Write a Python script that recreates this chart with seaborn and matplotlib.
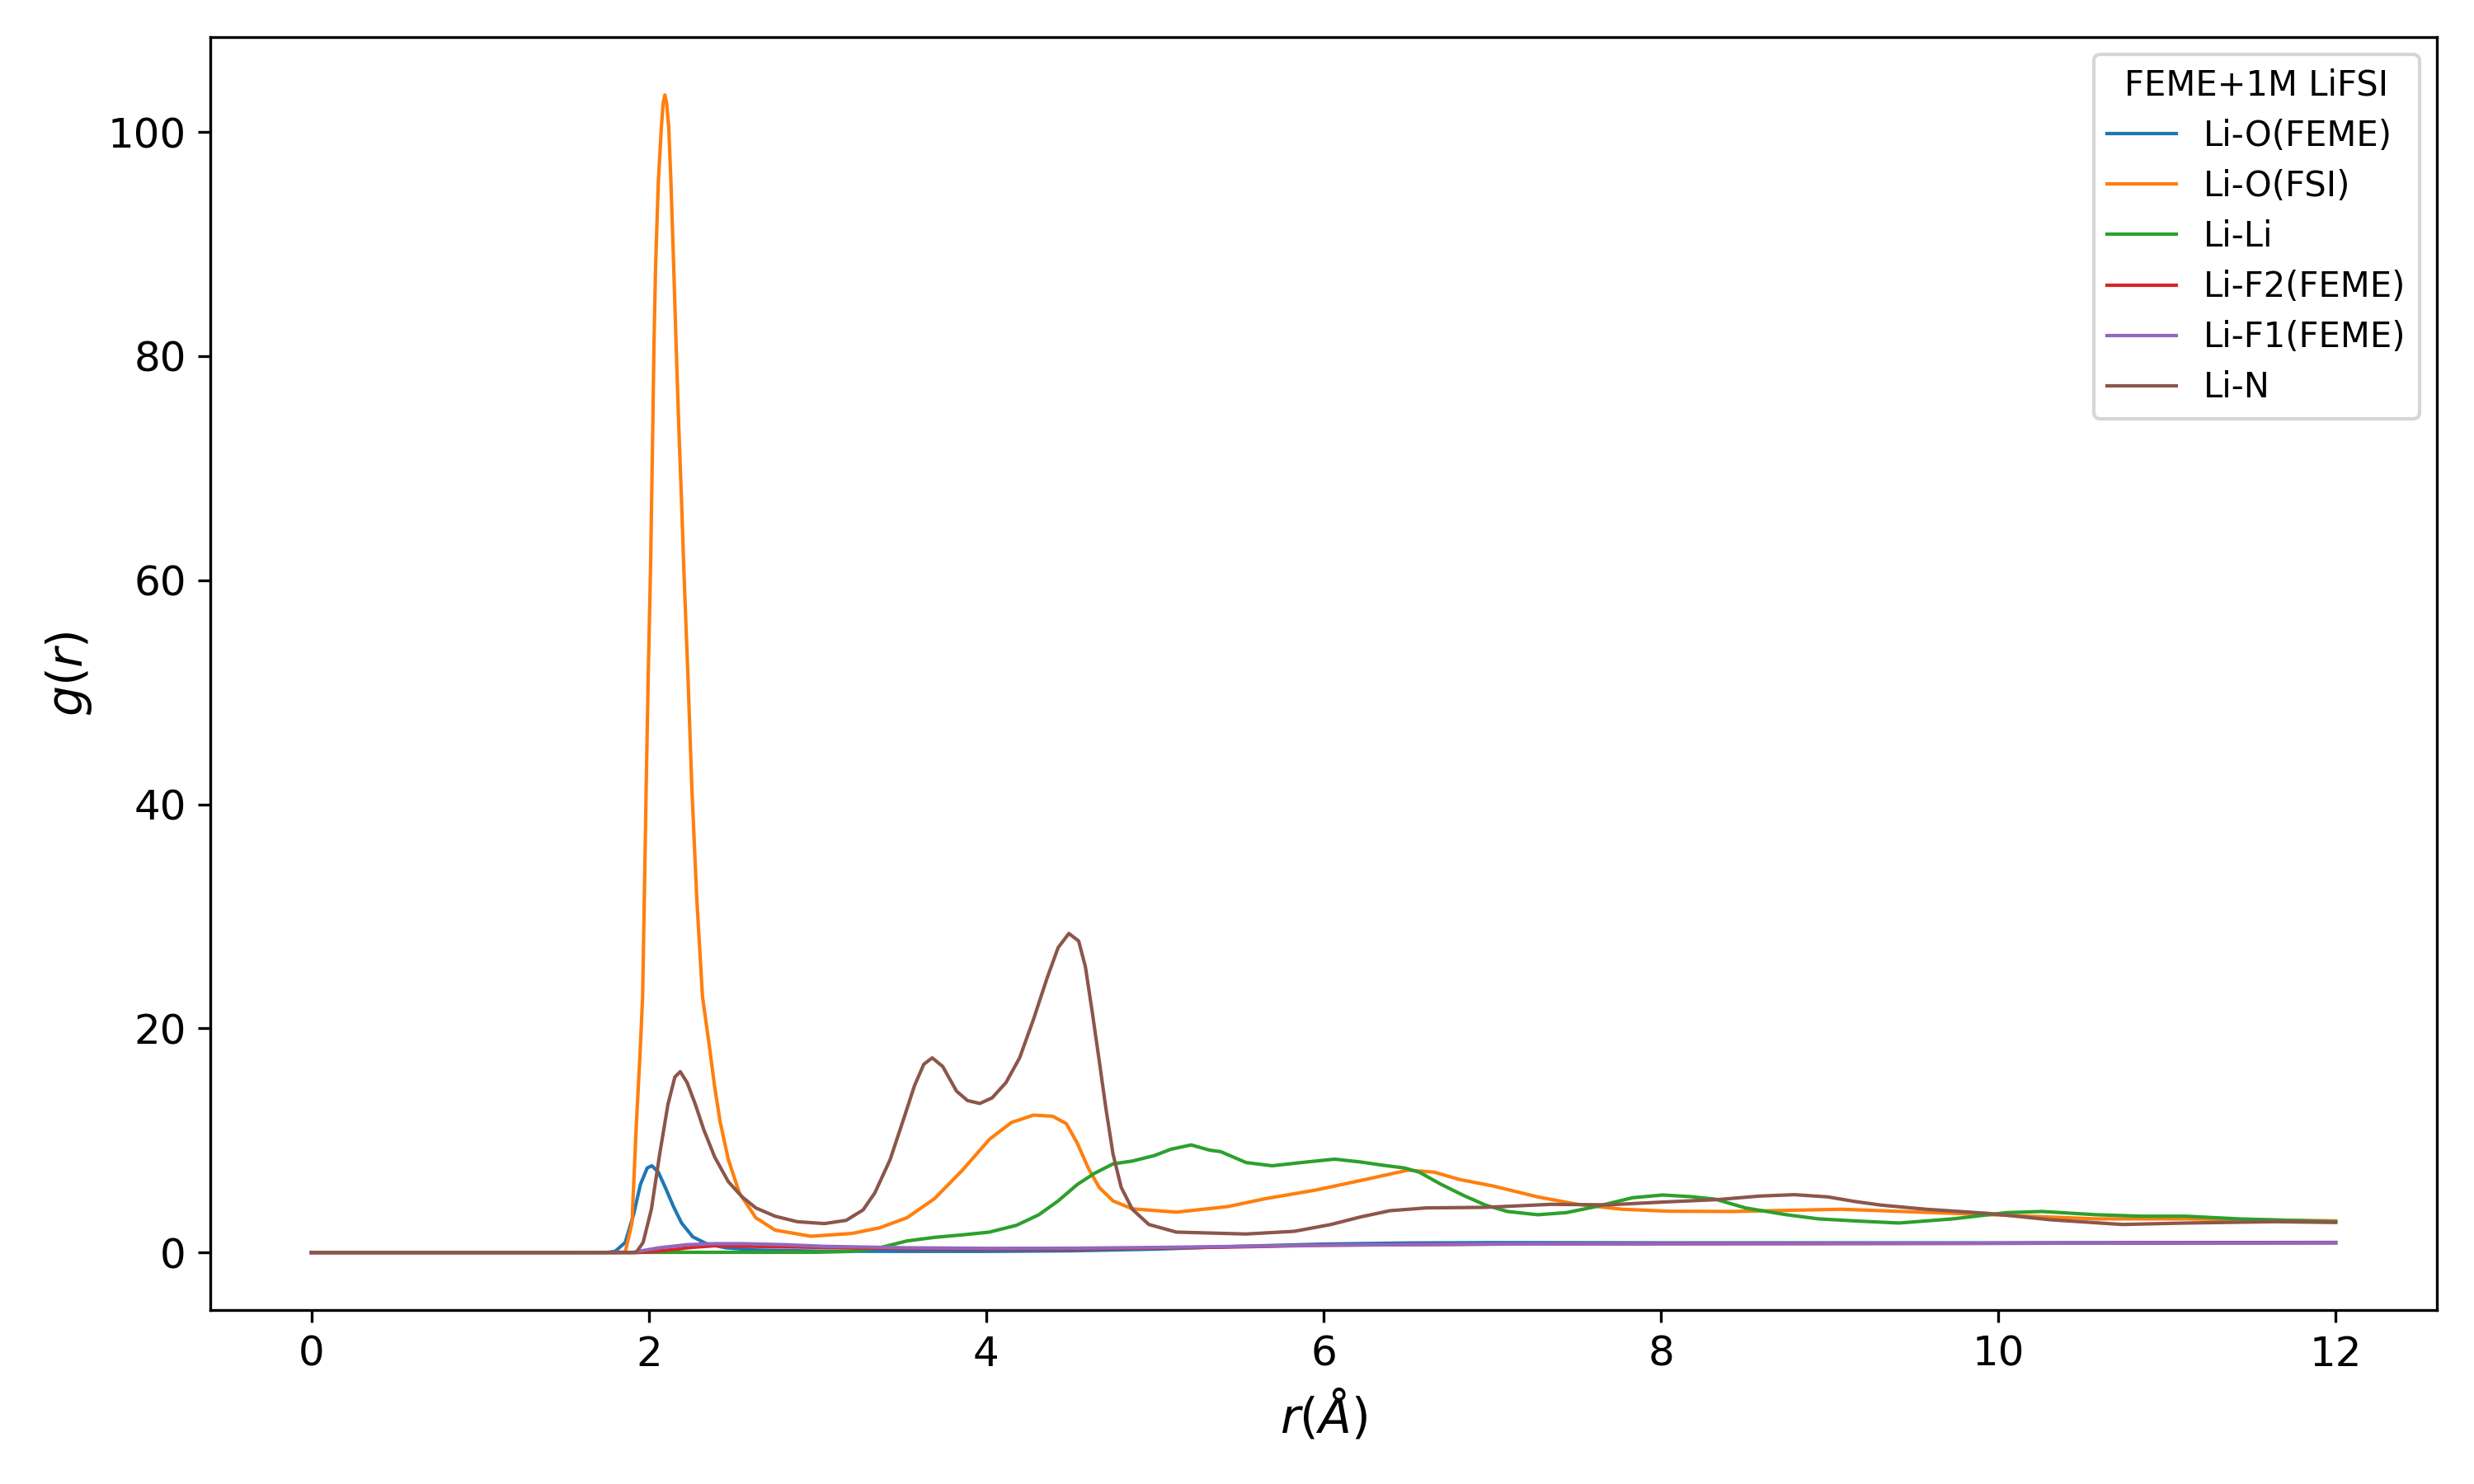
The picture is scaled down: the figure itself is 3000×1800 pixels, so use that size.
import matplotlib
matplotlib.use("Agg")
import matplotlib.pyplot as plt
import seaborn as sns

# ---- data ----
labels = ["Li-O(FEME)", "Li-O(FSI)", "Li-Li", "Li-F2(FEME)", "Li-F1(FEME)", "Li-N"]
legend_title = "FEME+1M LiFSI"

r_lio_feme = [0, 1.75, 1.80, 1.86, 1.909, 1.95, 1.99, 2.018, 2.056, 2.097, 2.146, 2.194, 2.26,
              2.341, 2.455, 2.634, 3.0, 3.5, 4.0, 4.5, 5.0, 5.5, 6.0, 6.5, 7.0, 8.0, 9.0, 10.0,
              11.0, 12.0]
g_lio_feme = [0, 0, 0.1, 0.9, 3.37, 6.07, 7.54, 7.74, 7.17, 5.82, 4.1, 2.63, 1.4,
              0.79, 0.42, 0.22, 0.12, 0.1, 0.1, 0.15, 0.3, 0.55, 0.75, 0.85, 0.88, 0.86, 0.86, 0.86,
              0.88, 0.9]

r_lio_fsi = [0, 1.80, 1.86, 1.90, 1.925, 1.947, 1.963, 1.973, 1.984, 1.996, 2.010, 2.023, 2.030,
             2.040, 2.056, 2.074, 2.085, 2.095, 2.105, 2.118, 2.131, 2.147, 2.162, 2.178, 2.194,
             2.207, 2.232, 2.255, 2.284, 2.318, 2.357, 2.389, 2.422, 2.471, 2.537, 2.634, 2.748,
             2.96, 3.204, 3.367, 3.53, 3.693, 3.856, 4.019, 4.149, 4.28, 4.394, 4.475, 4.54,
             4.606, 4.67, 4.752, 4.866, 5.127, 5.433, 5.65, 5.956, 6.262, 6.50, 6.655, 6.807,
             7.0, 7.27, 7.505, 7.77, 8.05, 8.42, 8.66, 9.07, 9.52, 10.05, 10.58, 11.11, 12.0]
g_lio_fsi = [0, 0, 0.05, 2.63, 11.2, 17.5, 22.8, 31.6, 41.4, 51.3, 61.1, 73.4, 80.8,
             88.1, 95.5, 100.4, 102.6, 103.3, 102.6, 100.4, 95.5, 88.1, 80.8, 73.4, 67.0,
             61.1, 51.3, 41.4, 31.6, 22.8, 18.6, 14.9, 11.7, 8.3, 5.3, 3.1, 2.0,
             1.45, 1.7, 2.2, 3.1, 4.8, 7.3, 10.1, 11.6, 12.26, 12.16, 11.5, 9.75,
             7.5, 5.8, 4.6, 3.9, 3.6, 4.1, 4.79, 5.58, 6.56, 7.35, 7.17, 6.51,
             5.95, 4.96, 4.3, 3.86, 3.68, 3.66, 3.73, 3.86, 3.61, 3.32, 3.0, 3.0, 2.82]

r_lili = [0, 3.0, 3.2, 3.367, 3.53, 3.693, 3.856, 4.019, 4.18, 4.312, 4.426, 4.54, 4.64, 4.752,
          4.866, 4.997, 5.094, 5.215, 5.322, 5.39, 5.54, 5.695, 5.87, 6.065, 6.218, 6.35, 6.48,
          6.567, 6.698, 6.83, 6.96, 7.09, 7.27, 7.44, 7.615, 7.833, 8.01, 8.18, 8.325, 8.5,
          8.744, 8.935, 9.15, 9.41, 9.73, 10.05, 10.26, 10.58, 10.845, 11.11, 11.425, 12.0]
g_lili = [0, 0.02, 0.1, 0.42, 1.03, 1.35, 1.57, 1.82, 2.43, 3.37, 4.6, 6.07, 7.05, 7.91,
          8.16, 8.65, 9.21, 9.6, 9.14, 9.0, 8.03, 7.74, 8.03, 8.33, 8.08, 7.79, 7.54,
          7.17, 6.07, 5.09, 4.23, 3.66, 3.37, 3.56, 4.1, 4.89, 5.13, 4.98, 4.75, 3.98,
          3.37, 3.0, 2.82, 2.63, 3.0, 3.56, 3.66, 3.37, 3.24, 3.24, 3.0, 2.75]

r_lif2 = [0, 1.93, 2.05, 2.146, 2.25, 2.39, 2.6, 3.04, 3.5, 4.0, 4.5, 5.0, 5.5, 6.0, 7.0, 8.0,
          9.0, 10.0, 11.0, 12.0]
g_lif2 = [0, 0, 0.12, 0.26, 0.45, 0.6, 0.55, 0.45, 0.35, 0.3, 0.3, 0.4, 0.5, 0.65, 0.75, 0.78,
          0.8, 0.82, 0.85, 0.86]

r_lif1 = [0, 1.9, 2.06, 2.23, 2.39, 2.55, 2.8, 3.04, 3.53, 4.02, 4.5, 5.0, 5.5, 6.0, 7.0, 8.0,
          9.0, 10.0, 11.0, 12.0]
g_lif1 = [0, 0, 0.42, 0.7, 0.79, 0.79, 0.7, 0.55, 0.42, 0.37, 0.38, 0.45, 0.55, 0.65, 0.75, 0.78,
          0.8, 0.82, 0.85, 0.86]

r_lin = [0, 1.925, 1.966, 2.015, 2.064, 2.113, 2.154, 2.186, 2.227, 2.276, 2.325, 2.39, 2.471,
         2.553, 2.634, 2.748, 2.879, 3.04, 3.17, 3.27, 3.34, 3.43, 3.51, 3.575, 3.63, 3.68,
         3.742, 3.824, 3.889, 3.962, 4.035, 4.117, 4.198, 4.28, 4.361, 4.426, 4.49, 4.548,
         4.588, 4.63, 4.67, 4.711, 4.752, 4.8, 4.866, 4.964, 5.127, 5.54, 5.826, 6.044, 6.218,
         6.393, 6.61, 6.96, 7.35, 7.685, 8.01, 8.336, 8.58, 8.79, 8.99, 9.15, 9.305, 9.57, 9.94,
         10.31, 10.735, 11.11, 11.64, 12.0]
g_lin = [0, 0, 0.9, 3.86, 8.77, 13.2, 15.65, 16.14, 15.16, 13.2, 10.98, 8.53, 6.32,
         4.96, 3.98, 3.24, 2.75, 2.58, 2.87, 3.8, 5.33, 8.28, 11.9, 14.9, 16.8, 17.37,
         16.6, 14.4, 13.56, 13.3, 13.8, 15.16, 17.37, 20.8, 24.5, 27.2, 28.47, 27.8,
         25.5, 21.3, 17.1, 12.7, 8.77, 5.82, 3.86, 2.5, 1.82, 1.65, 1.89, 2.5, 3.17,
         3.73, 3.98, 4.03, 4.3, 4.25, 4.5, 4.72, 5.03, 5.16, 4.96, 4.55, 4.23, 3.86, 3.49,
         2.92, 2.5, 2.63, 2.75, 2.68]

series_r = [r_lio_feme, r_lio_fsi, r_lili, r_lif2, r_lif1, r_lin]
series_g = [g_lio_feme, g_lio_fsi, g_lili, g_lif2, g_lif1, g_lin]

# ---- plotting ----
colors = sns.color_palette("tab10", 6)

fig, ax = plt.subplots(figsize=(10, 6), dpi=300)
for r, g, lab, c in zip(series_r, series_g, labels, colors):
    sns.lineplot(x=r, y=g, ax=ax, color=c, linewidth=1.0, label=lab,
                 sort=False, estimator=None)

ax.set_xticks([0, 2, 4, 6, 8, 10, 12])
ax.tick_params(axis="both", labelsize=12)
ax.set_xlabel(r"$r(Å)$", fontsize=14)
ax.set_ylabel(r"$g(r)$", fontsize=14)
ax.legend(title=legend_title, loc="upper right", fontsize=10, title_fontsize=10,
          labelspacing=0.46)

fig.subplots_adjust(left=0.085, right=0.985, top=0.975, bottom=0.117)
fig.savefig("out.png", dpi=300)
